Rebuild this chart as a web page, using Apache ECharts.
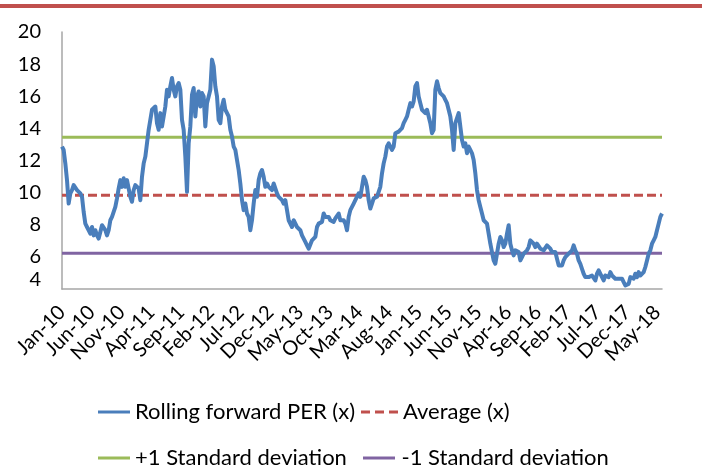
<!DOCTYPE html>
<html>
<head>
<meta charset="utf-8">
<script src="https://cdn.jsdelivr.net/npm/echarts@6/dist/echarts.min.js"></script>
<style>
  html, body { margin: 0; padding: 0; background: #fff; }
  #chart { width: 702px; height: 474px; }
</style>
</head>
<body>
<div id="chart"></div>
<script>
// Month labels on the x axis, one every 5 months starting Jan 2010
const tickLabels = ['Jan-10', 'Jun-10', 'Nov-10', 'Apr-11', 'Sep-11', 'Feb-12', 'Jul-12',
  'Dec-12', 'May-13', 'Oct-13', 'Mar-14', 'Aug-14', 'Jan-15', 'Jun-15', 'Nov-15',
  'Apr-16', 'Sep-16', 'Feb-17', 'Jul-17', 'Dec-17', 'May-18'];

// Spacing of the PER readings, in months since Jan 2010
const monthStep = 0.28;

// Rolling forward PER (x)
const perValues = [
  12.87, 12.66, 11.82, 10.78, 9.32, 9.95, 10.16, 10.47, 10.36, 10.16,
  10.16, 9.95, 9.74, 8.80, 8.07, 7.86, 7.66, 7.45, 7.86, 7.34,
  7.66, 7.34, 7.14, 7.55, 7.97, 8.07, 7.66, 7.34, 7.66, 8.28,
  8.49, 8.80, 9.11, 9.64, 10.26, 10.78, 10.36, 10.89, 10.36, 10.78,
  10.89, 9.74, 9.43, 10.16, 10.47, 10.57, 10.26, 9.53, 10.99, 11.82,
  12.24, 13.07, 13.91, 14.53, 15.16, 15.16, 15.36, 14.32, 13.91,

  14.95, 14.12, 14.74, 15.36, 16.41, 15.99, 16.61, 17.14, 16.41, 15.99,
  16.61, 16.82, 16.41, 14.53, 13.91, 12.24, 10.05, 13.07, 14.12, 16.09,
  16.51, 14.74, 15.99, 16.30, 15.36, 16.20, 15.99, 14.12, 15.57, 15.99,
  16.41, 18.28, 17.87, 16.61, 15.99, 14.53, 14.32, 15.36, 15.78, 15.16,
  15.16, 14.74, 13.91, 13.49, 12.87, 12.66, 12.03, 11.41, 10.57, 9.53,
  8.91, 9.32, 8.70, 8.49, 7.66, 8.28, 9.32, 10.16, 9.74, 10.78,

  11.20, 11.41, 10.99, 10.36, 10.57, 10.36, 10.26, 10.16, 10.57, 10.47,
  9.95, 9.74, 9.84, 9.53, 9.32, 9.53, 8.91, 8.28, 8.18, 7.86,
  8.28, 8.18, 7.86, 7.76, 7.66, 7.34, 7.24, 6.93, 6.72, 6.51,
  6.61, 7.03, 7.14, 7.24, 7.86, 8.07, 8.07, 8.18, 8.70, 8.49,
  8.39, 8.49, 8.28, 8.18, 8.18, 8.39, 8.28, 8.70, 8.28, 8.18,
  8.28, 8.07, 7.66, 8.49, 8.91, 8.80, 9.32, 9.53, 9.64, 9.95,

  9.74, 10.36, 10.99, 10.78, 10.36, 9.53, 9.01, 9.32, 9.64, 9.53,
  9.74, 9.84, 10.36, 11.20, 11.82, 12.24, 12.87, 13.07, 13.07, 12.66,
  12.87, 13.70, 13.80, 13.80, 13.91, 14.01, 14.32, 14.53, 14.74, 15.16,
  15.57, 15.36, 15.68, 16.61, 16.82, 15.99, 15.57, 15.16, 15.05, 14.95,
  15.16, 15.05, 14.32, 13.70, 13.91, 16.41, 16.93, 16.51, 16.20, 16.09,
  15.99, 15.78, 15.57, 15.16, 14.74, 13.91, 12.66, 14.32, 14.22, 14.95,

  14.95, 13.28, 12.87, 13.07, 12.45, 12.87, 12.66, 12.45, 12.03, 11.20,
  10.16, 9.53, 9.11, 8.70, 8.28, 8.28, 8.07, 7.45, 6.82, 6.30,
  5.78, 5.57, 6.20, 6.82, 7.24, 7.03, 6.61, 6.82, 7.45, 7.97,
  6.82, 6.41, 6.09, 6.41, 6.41, 6.30, 5.78, 5.99, 6.20, 6.30,
  6.41, 6.61, 7.03, 6.93, 6.82, 6.61, 6.82, 6.72, 6.51, 6.61,
  6.41, 6.30, 6.72, 6.82, 6.51, 6.30, 6.20, 6.30, 5.89, 5.47,

  5.57, 5.47, 5.78, 5.99, 6.09, 6.20, 6.30, 6.41, 6.72, 6.41,
  6.20, 5.78, 5.57, 5.26, 4.95, 4.74, 4.64, 4.74, 4.64, 4.84,
  4.74, 4.53, 4.95, 5.16, 5.05, 4.74, 4.53, 4.84, 4.95, 4.74,
  5.05, 4.84, 4.74, 4.64, 4.74, 4.64, 4.53, 4.64, 4.43, 4.22,
  4.22, 4.32, 4.74, 4.84, 4.64, 4.95, 4.74, 5.05, 4.84, 4.95,
  5.05, 5.37, 5.78, 6.20, 6.41, 6.82, 7.03, 7.24, 7.66, 8.07,
  8.49, 8.70
];

// Long-run statistics of the PER
const averagePer = 9.84;
const plusOneSd = 13.45;
const minusOneSd = 6.23;

// Y axis range and step
const yMin = 4, yMax = 20, yStep = 2;

const seriesNames = ['Rolling forward PER (x)', 'Average (x)', '+1 Standard deviation', '-1 Standard deviation'];

const lastMonth = (perValues.length - 1) * monthStep;
const perPoints = perValues.map((v, i) => [i * monthStep, v]);
const flat = v => [[0, v], [lastMonth, v]];

const FONT = 'Lato';
const LEGEND_FONT = 22;

// Legend swatches: a solid bar and a three-dash bar
const solidIcon = 'path://M0,0H32V3H0Z';
const dashIcon = 'path://M0,0h9v3h-9zM14,0h9v3h-9zM28,0h9v3h-9z';

function legendEntry(name, icon, left, top, width) {
  return {
    data: [{ name: name, icon: icon }],
    left: left, top: top,
    padding: 0,
    itemWidth: width, itemHeight: 3,
    selectedMode: false,
    textStyle: { fontFamily: FONT, fontSize: LEGEND_FONT, color: '#000' }
  };
}

const chart = echarts.init(document.getElementById('chart'), null, { renderer: 'canvas' });

chart.setOption({
  animation: false,
  backgroundColor: '#ffffff',
  graphic: [{
    type: 'rect',
    left: 0, top: 4,
    shape: { width: 702, height: 4 },
    style: { fill: '#C0504D' },
    silent: true
  }],
  grid: { left: 62, right: 40, top: 32, bottom: 185, containLabel: false },
  xAxis: {
    type: 'value',
    min: 0,
    max: lastMonth,
    interval: 5,
    axisLine: { show: true, lineStyle: { color: '#A6A6A6', width: 1.5 } },
    axisTick: { show: false },
    splitLine: { show: false },
    axisLabel: {
      rotate: 45,
      margin: 20,
      showMaxLabel: false,
      fontFamily: FONT,
      fontSize: 20,
      color: '#000',
      formatter: v => (Math.abs(v / 5 - Math.round(v / 5)) < 1e-6 ? (tickLabels[Math.round(v / 5)] || '') : '')
    }
  },
  yAxis: {
    type: 'value',
    min: yMin,
    max: yMax,
    interval: yStep,
    axisLine: { show: true, lineStyle: { color: '#A6A6A6', width: 1.5 } },
    axisTick: { show: false },
    splitLine: { show: false },
    axisLabel: {
      margin: 21,
      fontFamily: FONT,
      fontSize: 20,
      color: '#000',
      formatter: v => (v === yMin ? '{low|' + v + '}' : String(v)),
      rich: { low: { fontFamily: FONT, fontSize: 20, color: '#000', padding: [0, 0, 18, 0] } }
    }
  },
  legend: [
    legendEntry(seriesNames[0], solidIcon, 98, 401, 32),
    legendEntry(seriesNames[1], dashIcon, 361, 401, 37),
    legendEntry(seriesNames[2], solidIcon, 98, 447, 32),
    legendEntry(seriesNames[3], solidIcon, 363, 447, 35)
  ],
  series: [{
    name: seriesNames[0],
    type: 'line',
    data: perPoints,
    symbol: 'none',
    z: 5,
    lineStyle: { color: '#4A7EBB', width: 4, join: 'round' },
    itemStyle: { color: '#4A7EBB' }
  }, {
    name: seriesNames[1],
    type: 'line',
    data: flat(averagePer),
    symbol: 'none',
    z: 3,
    lineStyle: { color: '#C0504D', width: 3, type: [9, 4] },
    itemStyle: { color: '#C0504D' }
  }, {
    name: seriesNames[2],
    type: 'line',
    data: flat(plusOneSd),
    symbol: 'none',
    z: 3,
    lineStyle: { color: '#9BBB59', width: 3 },
    itemStyle: { color: '#9BBB59' }
  }, {
    name: seriesNames[3],
    type: 'line',
    data: flat(minusOneSd),
    symbol: 'none',
    z: 3,
    lineStyle: { color: '#8064A2', width: 3 },
    itemStyle: { color: '#8064A2' }
  }]
});
</script>
</body>
</html>
